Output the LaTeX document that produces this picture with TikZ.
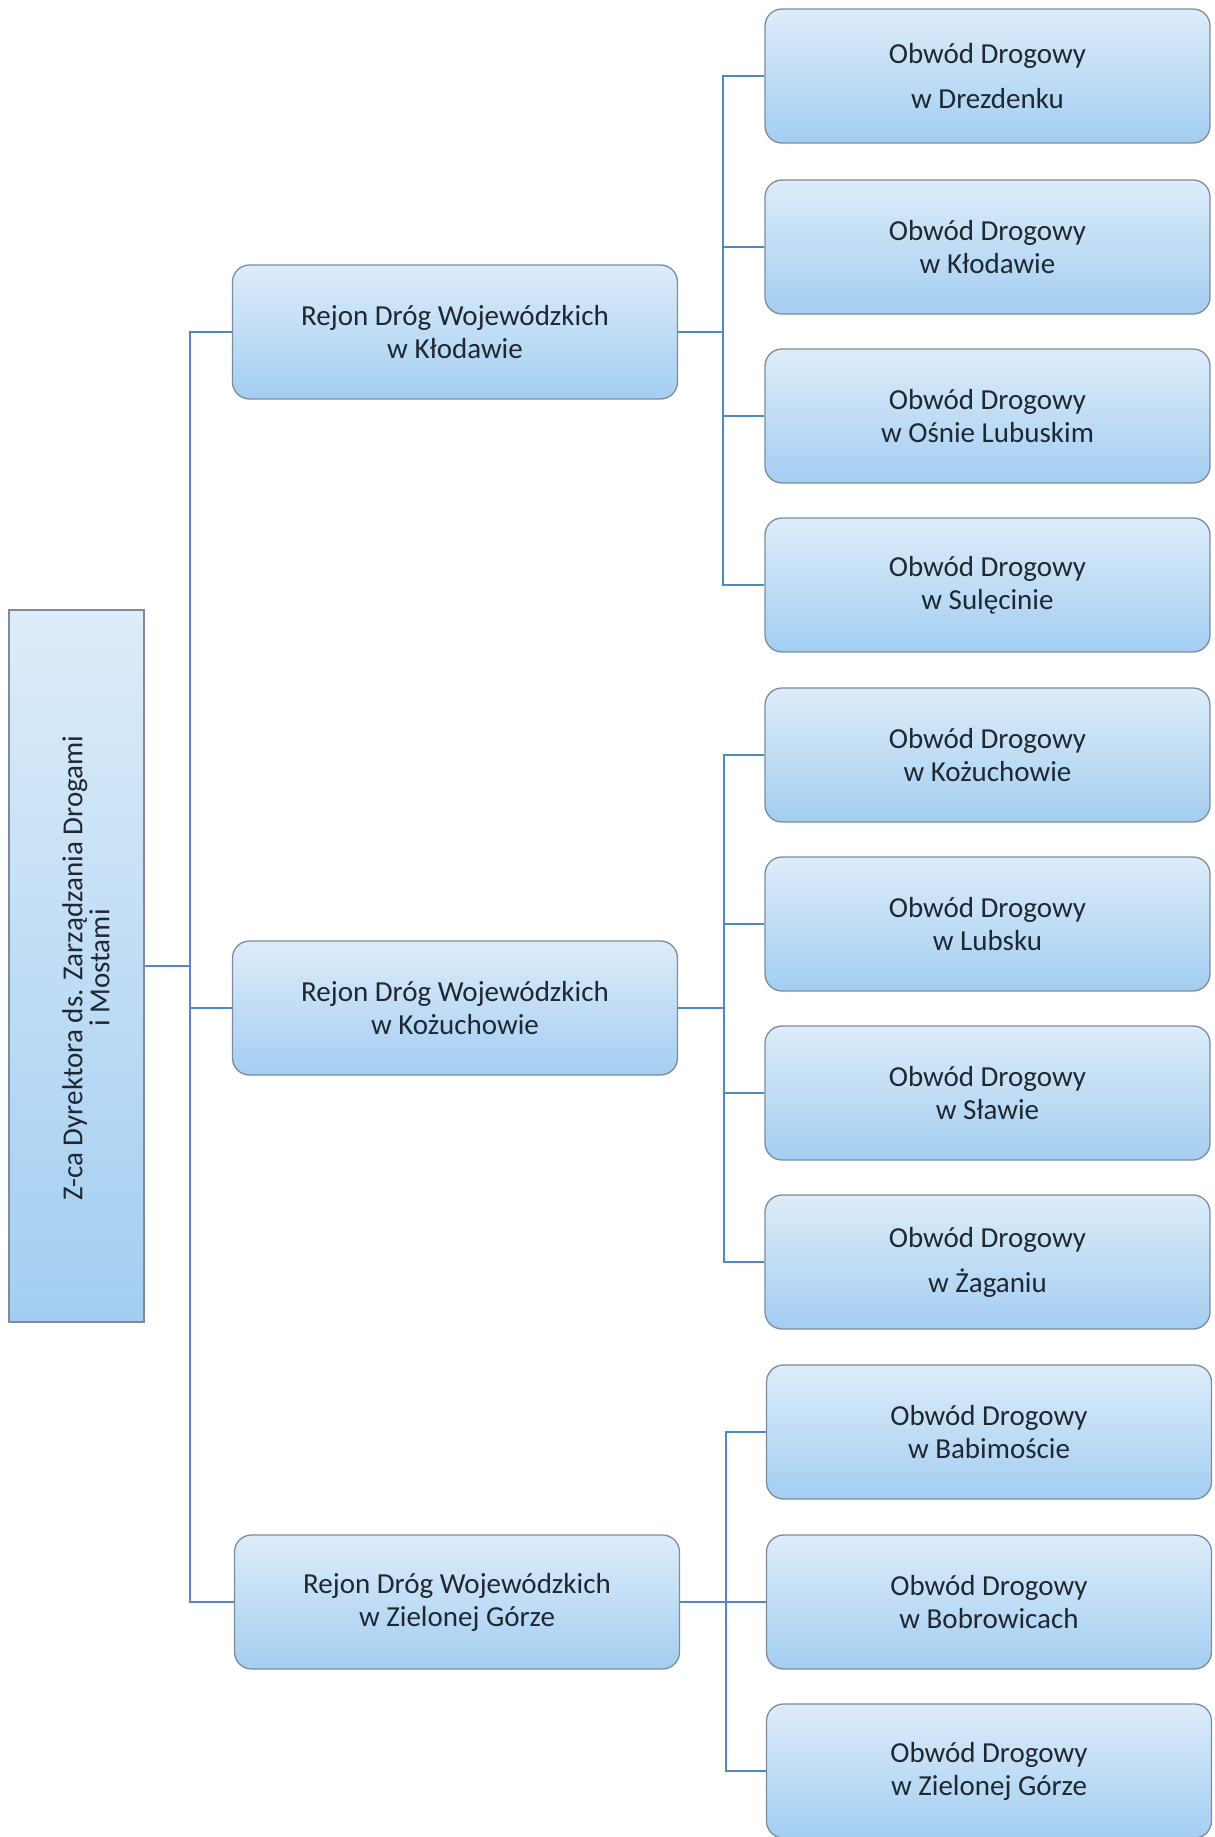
\documentclass[tikz,border=0pt]{standalone}
\usepackage{fontspec}
\setmainfont{Carlito}
\definecolor{boxtop}{HTML}{DDECF9}
\definecolor{boxbot}{HTML}{A3CEF1}
\definecolor{boxborder}{HTML}{7D8C9C}
\definecolor{conn}{HTML}{5089BF}
\definecolor{txt}{HTML}{1E2833}
\begin{document}
\begin{tikzpicture}[x=1pt,y=-1pt,
  box/.style={draw=boxborder, line width=1.3pt, rounded corners=17pt,
    top color=boxtop, bottom color=boxbot, minimum width=445pt,
    minimum height=134pt, align=center, inner sep=0pt, text=txt,
    font=\fontsize{29}{33}\selectfont},
  wide/.style={font=\fontsize{29}{45}\selectfont},
  lead/.style={draw=boxborder, line width=1.3pt, top color=boxtop,
    bottom color=boxbot, minimum width=135pt, minimum height=712pt, inner sep=0pt},
  conn/.style={draw=conn, line width=2.2pt}]
\useasboundingbox (0,0) rectangle (1215,1837);

% leader box
\node[lead] (L) at (76.5,966) {};
\node[rotate=90, align=center, text=txt, font=\fontsize{29}{27}\selectfont, inner sep=0pt]
  (Lt) at (86,968) {Z-ca Dyrektora ds. Zarządzania Drogami\\i Mostami};

% regions
\node[box] (R1) at (455,332) {Rejon Dróg Wojewódzkich\\w Kłodawie};
\node[box] (R2) at (455,1008) {Rejon Dróg Wojewódzkich\\w Kożuchowie};
\node[box] (R3) at (457,1602) {Rejon Dróg Wojewódzkich\\w Zielonej Górze};

% districts
\node[box,wide] (O1) at (987.5,76) {Obwód Drogowy\\w Drezdenku};
\node[box] (O2) at (987.5,247) {Obwód Drogowy\\w Kłodawie};
\node[box] (O3) at (987.5,416) {Obwód Drogowy\\w Ośnie Lubuskim};
\node[box] (O4) at (987.5,585) {Obwód Drogowy\\w Sulęcinie};
\node[box] (O5) at (987.5,755) {Obwód Drogowy\\w Kożuchowie};
\node[box] (O6) at (987.5,924) {Obwód Drogowy\\w Lubsku};
\node[box] (O7) at (987.5,1093) {Obwód Drogowy\\w Sławie};
\node[box,wide] (O8) at (987.5,1262) {Obwód Drogowy\\w Żaganiu};
\node[box] (O9) at (989,1432) {Obwód Drogowy\\w Babimoście};
\node[box] (O10) at (989,1602) {Obwód Drogowy\\w Bobrowicach};
\node[box] (O11) at (989,1771) {Obwód Drogowy\\w Zielonej Górze};

% connectors
\coordinate (t) at (190,966);
\draw[conn] (L.east) -- (t);
\draw[conn] (R1.west) -| (t);
\draw[conn] (R2.west) -| (t);
\draw[conn] (R3.west) -| (t);

\coordinate (g1) at (723,332);
\coordinate (g2) at (724,1008);
\coordinate (g3) at (726,1602);
\draw[conn] (R1.east) -- (g1);
\draw[conn] (R2.east) -- (g2);
\draw[conn] (R3.east) -- (g3);
\foreach \o in {O1,O2,O3,O4} \draw[conn] (\o.west) -| (g1);
\foreach \o in {O5,O6,O7,O8} \draw[conn] (\o.west) -| (g2);
\foreach \o in {O9,O10,O11} \draw[conn] (\o.west) -| (g3);
\end{tikzpicture}
\end{document}
